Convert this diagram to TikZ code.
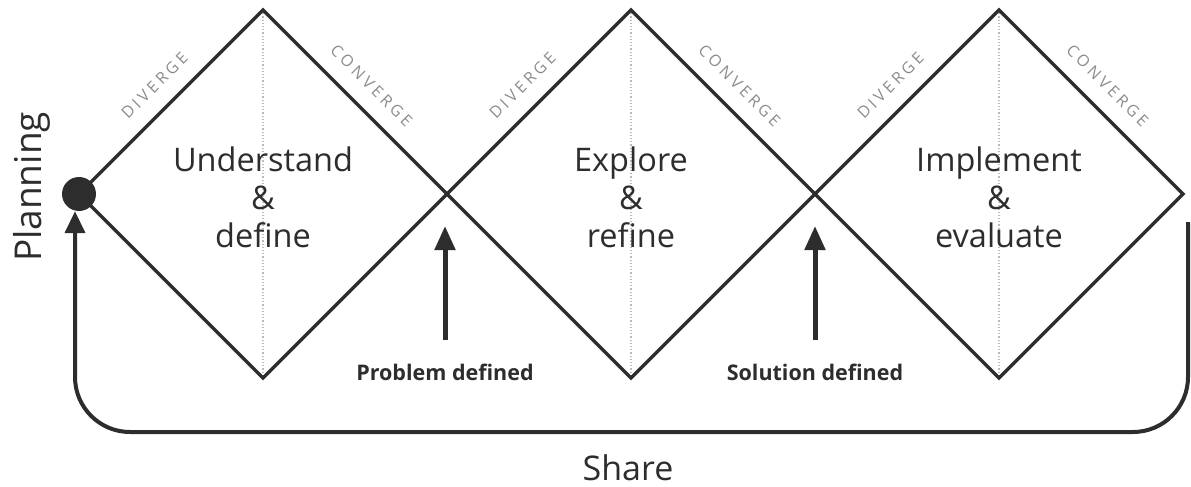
\documentclass[tikz,border=0pt]{standalone}
\usepackage{fontspec}
\setmainfont{Open Sans}
\newfontfamily\spacedfont{Open Sans}[LetterSpace=22]
\usetikzlibrary{arrows.meta}
\definecolor{ink}{RGB}{45,45,45}
\definecolor{faint}{RGB}{140,140,140}

\begin{document}
\begin{tikzpicture}[x=1pt,y=-1pt,
  edge/.style={ink, line width=3.5pt},
  axis/.style={faint!60, line width=1.2pt, dotted},
  side/.style={faint, font=\spacedfont\fontsize{16}{16}\selectfont, sloped, above=14pt},
  phase/.style={ink, align=center, font=\fontsize{32.5}{38}\selectfont},
  marker/.style={ink, line width=5pt, -{Triangle[width=20pt,length=24pt]}},
  feedback/.style={ink, line width=4pt, rounded corners=55pt, -{Triangle[width=20pt,length=22pt]}},
  caption/.style={ink, font=\bfseries\fontsize{21.5}{22}\selectfont}]
  \useasboundingbox (0,0) rectangle (1191,487);
  % corners of the three diamonds
  \coordinate (w1) at (79,194) ; \coordinate (n1) at (263,10) ; \coordinate (s1) at (263,378) ;
  \coordinate (w2) at (447,194) ; \coordinate (n2) at (631,10) ; \coordinate (s2) at (631,378) ;
  \coordinate (w3) at (815,194) ; \coordinate (n3) at (999,10) ; \coordinate (s3) at (999,378) ;
  \coordinate (e3) at (1183,194) ;
  \draw[axis] (n1) -- (s1) ;
  \draw[axis] (n2) -- (s2) ;
  \draw[axis] (n3) -- (s3) ;
  \draw[edge] (w1) -- (n1) -- (w2) -- (s1) -- cycle ;
  \draw[edge] (w2) -- (n2) -- (w3) -- (s2) -- cycle ;
  \draw[edge] (w3) -- (n3) -- (e3) -- (s3) -- cycle ;
  \path (w1) -- (n1) node[side, midway] {DIVERGE} ;
  \path (n1) -- (w2) node[side, midway] {CONVERGE} ;
  \path (w2) -- (n2) node[side, midway] {DIVERGE} ;
  \path (n2) -- (w3) node[side, midway] {CONVERGE} ;
  \path (w3) -- (n3) node[side, midway] {DIVERGE} ;
  \path (n3) -- (e3) node[side, midway] {CONVERGE} ;
  \node[phase] (p1) at (263,197) {Understand\\\&\\define} ;
  \node[phase] (p2) at (631,197) {Explore\\\&\\refine} ;
  \node[phase] (p3) at (999,197) {Implement\\\&\\evaluate} ;
  \node[circle, fill=ink, inner sep=0pt, minimum size=34pt] (start) at (w1) {} ;
  % milestones
  \node[caption] (prob) at (445,372) {Problem defined} ;
  \node[caption] (sol) at (815,372) {Solution defined} ;
  \coordinate (base1) at (445,340) ; \coordinate (tip1) at (445,226) ;
  \coordinate (base2) at (815,340) ; \coordinate (tip2) at (815,226) ;
  \draw[marker] (base1) -- (tip1) ;
  \draw[marker] (base2) -- (tip2) ;
  % share loop
  \coordinate (back) at (1188,222) ;
  \coordinate (se) at (1188,432) ; \coordinate (sw) at (75,432) ;
  \draw[feedback] (back) -- (se) -- (sw) -- (start.south -| sw) ;
  \node[ink, inner sep=0pt, font=\fontsize{34}{34}\selectfont] (share) at (628,468) {Share} ;
  \node[ink, inner sep=0pt, rotate=90, font=\fontsize{37}{37}\selectfont] (plan) at (32,187) {Planning} ;
\end{tikzpicture}
\end{document}
